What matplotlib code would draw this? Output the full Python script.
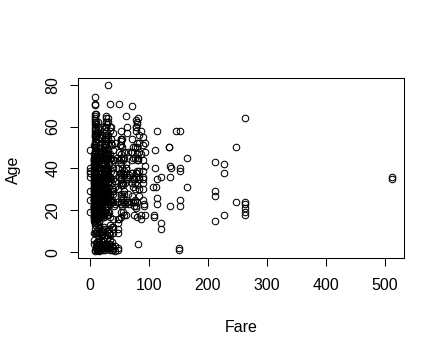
import matplotlib
matplotlib.use("Agg")
import matplotlib.pyplot as plt

# ---- data (Fare vs Age), grouped by fare level ----
low_fares = [0.0, 6.75, 7.05, 7.125, 7.225, 7.2292, 7.25, 7.4958, 7.55, 7.65,
             7.75, 7.775, 7.8542, 7.8958, 7.925, 8.05, 8.6625, 9.225, 9.5, 9.8375]
low_ages = [
    [19, 25, 36, 40, 49, 39, 38, 29],
    [19, 25, 43],
    [22, 36, 28, 21, 20],
    [34, 30, 44, 17],
    [27, 17, 28, 30, 22, 45],
    [15, 22, 29, 41, 26],
    [22, 20, 28, 21, 36, 25, 31, 18, 29, 33, 19, 40, 42, 26, 45, 17, 24, 23, 30, 35, 47, 51, 44, 34, 27, 16, 38, 32],
    [25, 33, 44],
    [32, 20, 48, 26],
    [21, 24, 30, 45, 19],
    [28, 34, 20, 21, 33, 16, 39, 30, 65, 70.5, 24, 22, 35, 15, 26, 18, 20.5, 32.5, 45, 19, 71],
    [74, 25, 32, 45, 22, 18, 40],
    [14, 17, 20, 27, 36, 43, 49],
    [17, 19, 20, 22, 25, 26, 28, 30, 32, 34, 36, 39, 44, 50, 55.5, 61, 22, 24, 27, 29, 33, 21, 35, 45.5, 38, 42],
    [26, 18, 21, 38, 24, 27, 20, 14, 28.5, 32, 46, 22, 36, 41, 16, 31, 59, 63, 44, 40, 53],
    [35, 20, 39, 29, 37, 24, 43, 21, 23, 40, 48, 55, 28, 31, 34, 17, 19, 26, 30.5, 32, 50, 45, 62, 64, 60, 58, 16, 25, 27, 36, 42, 47, 22, 33, 51, 56],
    [20, 24, 31, 34, 26, 18, 27, 44, 57, 66, 47, 38],
    [34, 21, 46],
    [30, 25, 45, 32, 20, 34, 16, 56, 61, 48],
    [22, 27, 36, 18],
]

mid_fares = [10.5, 11.5, 12.475, 13.0, 13.5, 14.4542, 15.5, 16.1, 17.8, 18.75,
             19.5, 20.575, 21.0, 22.0, 23.0, 24.15, 25.4667, 26.0, 26.25, 26.55,
             27.7208, 27.9, 28.5, 29.7, 30.0, 30.5, 31.0, 32.5, 33.5, 34.375,
             34.6542, 35.5, 36.75, 37.0, 38.5, 39.0, 39.6875, 40.125, 41.5792, 42.4,
             45.5, 46.9, 49.5, 49.5042, 50.4958, 51.8625, 52.0, 52.5542, 53.1, 55.0]
mid_ages = [
    [28, 34, 27, 23, 30, 25, 66, 31, 43, 18, 35, 42, 50, 54, 38, 21, 24, 57, 41, 32, 19, 52, 36, 29, 16, 62],
    [30, 44, 25, 19, 36],
    [29, 16, 34, 21, 40, 57, 22],
    [27, 34, 35, 24, 19, 30, 23, 28, 32, 42, 54, 18, 21, 25, 31, 36, 38, 44, 50, 57, 29, 40, 16, 52, 33, 62, 60, 48, 46, 26, 39],
    [35, 27, 48, 59, 24],
    [15, 14.5, 27, 36, 18, 22, 30, 45, 40],
    [21, 18, 40, 33, 25, 29, 23, 32, 46, 55],
    [24, 22, 18, 25, 28, 48, 34, 51, 20, 39],
    [18, 28, 24, 40],
    [31, 28, 23, 17, 36, 47],
    [30, 24, 45],
    [19, 25, 32, 44, 29, 43, 60],
    [30, 31, 32, 24, 28, 36, 26, 19, 27, 23, 56, 42, 18],
    [25, 17, 32, 47, 35],
    [31, 30, 35, 19, 43, 50],
    [26, 18, 17, 25, 30, 42, 28, 40, 49, 37],
    [36, 45, 26, 53],
    [31, 36, 34, 25, 27, 44, 30, 19, 33, 24, 39, 48, 51, 60, 28, 26, 23, 54, 29, 42, 57, 37, 50, 21, 52],
    [35, 40, 20, 27],
    [40, 47, 64, 56, 45, 49, 39, 54, 51, 58, 62, 36, 31, 28, 65, 60, 55],
    [47, 36, 38, 21, 30, 45, 54],
    [18, 44, 26],
    [45, 22, 39, 61, 35],
    [62, 40, 45, 33, 52],
    [19, 46, 28, 54, 18, 24, 37, 29, 49, 43, 33, 80],
    [56, 27, 39, 64, 47],
    [24, 22, 33, 36, 26],
    [36, 19, 42, 34],
    [27, 25, 36, 60, 47, 24],
    [45, 23, 17],
    [71, 58, 28],
    [35, 39, 45, 52, 60, 54],
    [24, 42, 33],
    [25, 51],
    [57, 30],
    [44, 16, 29, 38],
    [28, 24, 29, 40, 49, 35],
    [44, 22],
    [34, 23],
    [52, 31],
    [45, 24],
    [40, 30, 14, 16],
    [71, 36, 44],
    [48, 16],
    [38, 51],
    [54, 23, 45],
    [54, 26, 35, 58, 17, 42, 36, 28],
    [53, 19, 47],
    [35, 38, 51, 45, 27, 37, 32, 24],
    [50, 54, 40, 22, 33],
]

high_fares = [55.9, 56.4958, 56.9292, 57.0, 57.9792, 59.4, 61.175, 61.3792, 61.9792, 63.3583,
              65.0, 66.6, 69.3, 71.0, 71.2833, 73.5, 75.25, 76.2917, 76.7292, 77.2875,
              77.9583, 79.2, 79.65, 80.0, 82.1708, 83.1583, 83.475, 86.5, 89.1042, 90.0,
              91.0792, 93.5]
high_ages = [
    [45, 19, 33], [26, 32, 38, 44], [18, 24, 39], [45, 37, 29], [48, 28, 37],
    [33, 23], [65, 40, 18], [40, 42], [60], [57, 35, 24],
    [24, 48, 28], [37, 36, 23], [48, 24], [70, 38, 27, 33, 44, 54], [38, 48, 35],
    [24, 31, 45, 50], [35, 18, 22], [45, 50], [33, 25, 24, 30], [60, 22, 36],
    [63, 60, 21, 58, 38], [62, 52, 24, 32], [61, 39, 17, 44], [38, 50, 47], [44, 64, 45],
    [48, 56, 39, 27], [52, 36, 30, 35], [16, 18, 58, 47], [35, 39, 30, 36], [25, 33, 44, 51, 55],
    [22, 23], [48, 52, 18, 41],
]

child_fares = [7.225, 8.05, 8.5167, 9.35, 10.4625, 11.1333, 11.2417, 12.2875, 12.475, 13.0,
               14.4542, 15.2458, 15.7417, 15.9, 18.75, 19.2583, 20.525, 20.575, 21.075, 22.025,
               23.0, 26.0, 27.9, 29.0, 29.125, 31.275, 31.3875, 33.0, 34.375, 36.75,
               37.0, 39.0, 39.6875, 41.5792, 46.9, 81.8583]
child_ages = [
    [4, 6, 9], [9, 11, 13], [1, 0.75], [2], [4, 9], [1, 4, 14, 5], [9, 0.83], [3], [5, 10], [1, 8, 3, 0.83, 13],
    [5, 0.42], [1, 4, 9, 7, 2], [9, 1, 4], [7, 3, 12], [1, 2, 8], [2, 4, 10], [2, 11], [5, 8, 10], [3, 2, 8], [1, 6],
    [2, 7, 12], [0.83, 3, 8, 4, 11], [3, 2, 8, 10], [4, 7], [2, 4, 8], [4, 9, 11, 2], [9, 3, 2], [4, 8], [1, 6, 13], [0.92, 3],
    [5, 12], [2, 11], [1, 9, 12], [0.67, 3], [9, 11, 1, 2], [4],
]

top_fares = [106.425, 108.9, 108.9, 110.8833, 110.8833, 112.0, 113.275, 113.275, 113.275, 113.275,
             120.0, 120.0, 120.0, 133.65, 134.5, 135.6333, 135.6333, 136.7792, 135.6333, 146.5208,
             151.55, 151.55, 153.4625, 153.4625, 153.4625, 153.4625, 153.4625, 164.8667, 164.8667, 211.3375,
             211.3375, 211.3375, 211.5, 227.525, 227.525, 227.525, 247.5208, 247.5208, 262.375, 263.0,
             263.0, 263.0, 263.0, 263.0, 512.3292, 512.3292]
top_ages = [31, 17, 18, 49, 40, 31, 58, 35, 26, 23,
            36, 14, 11, 50, 50, 41, 36, 40, 22, 58,
            1, 2, 58, 40, 39, 25, 22, 45, 31, 29,
            27, 15, 43, 42, 38, 18, 50, 24, 64, 24,
            23, 21, 19, 18, 35, 36]

fare = []
age = []
for fs, ags in ((low_fares, low_ages), (mid_fares, mid_ages),
                (high_fares, high_ages), (child_fares, child_ages)):
    for f, a_list in zip(fs, ags):
        for a in a_list:
            fare.append(f)
            age.append(a)
fare += top_fares
age += top_ages

x_ticks = [0, 100, 200, 300, 400, 500]
y_ticks = [0, 20, 40, 60, 80]

plt.rcParams['font.family'] = ['Liberation Sans', 'DejaVu Sans']

fig = plt.figure(figsize=(4.45, 3.56), dpi=100)
ax = fig.add_axes([78 / 445, (356 - 258) / 356, (404 - 78) / 445, (258 - 78) / 356])
ax.plot(fare, age, linestyle='none', marker='o', markersize=4.7,
        markerfacecolor='none', markeredgecolor='black', markeredgewidth=0.75)

xr = max(fare) - min(fare)
yr = max(age) - min(age)
ax.set_xlim(min(fare) - 0.04 * xr, max(fare) + 0.04 * xr)
ax.set_ylim(min(age) - 0.04 * yr, max(age) + 0.04 * yr)

ax.set_xticks(x_ticks)
ax.set_xticklabels([str(t) for t in x_ticks])
ax.set_yticks(y_ticks)
ax.set_yticklabels([str(t) for t in y_ticks], rotation=90, va='center')
ax.tick_params(axis='both', direction='out', length=5.5, width=0.75,
               labelsize=11.5, colors='black')
ax.tick_params(axis='x', pad=9)
ax.tick_params(axis='y', pad=7)
for s in ax.spines.values():
    s.set_linewidth(0.75)

fig.text(241 / 445, 1 - 327 / 356, 'Fare', ha='center', va='center', fontsize=11.5)
fig.text(13 / 445, 1 - 170 / 356, 'Age', ha='center', va='center', rotation=90, fontsize=11.5)

fig.savefig('out.png', dpi=100)
